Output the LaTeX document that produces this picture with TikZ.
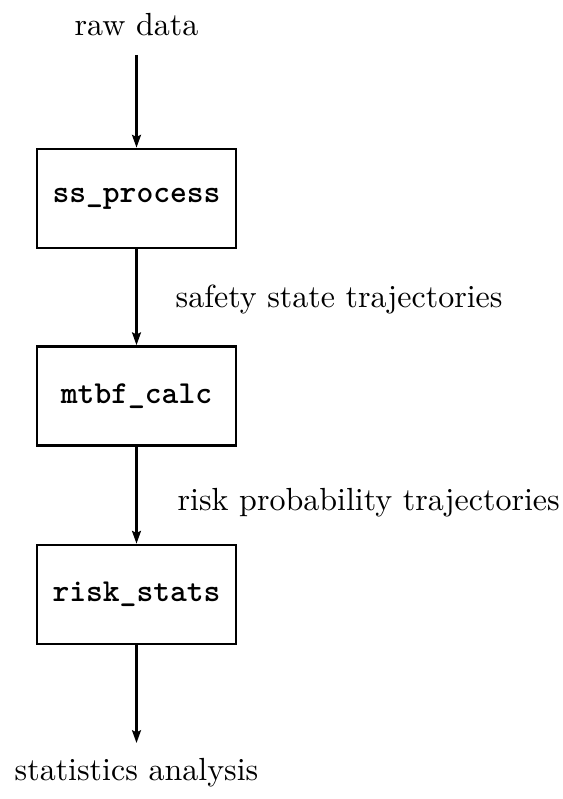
\documentclass[tikz,border=0pt]{standalone}
\usetikzlibrary{arrows.meta}
\begin{document}
\begin{tikzpicture}[x=0.3125pt,y=-0.3125pt,
  procbox/.style={draw,line width=0.85pt,minimum width=199*0.3125pt,minimum height=99*0.3125pt,inner sep=0pt,font=\ttfamily\bfseries},
  lbl/.style={inner sep=0pt,font=\fontsize{10}{12}\selectfont},
  flow/.style={line width=0.75pt,-{Stealth[length=4pt,width=2.8pt,inset=0.7pt]}}]
\useasboundingbox (0,0) rectangle (562,799);
\node[lbl] (raw) at (136.5,25) {raw data};
\node[procbox] (b1) at (136.5,198.5) {ss\_process};
\node[procbox] (b2) at (136.5,396) {mtbf\_calc};
\node[procbox] (b3) at (136.5,594.5) {risk\_stats};
\coordinate (out) at (136.5,743);
\node[lbl] (stat) at (136.5,773) {statistics analysis};
\node[lbl,anchor=west] (l1) at (175,300) {safety state trajectories};
\node[lbl,anchor=west] (l2) at (177,503) {risk probability trajectories};
\draw[flow,shorten <=18*0.3125pt] (raw.south) -- (b1.north);
\draw[flow] (b1.south) -- (b2.north);
\draw[flow] (b2.south) -- (b3.north);
\draw[flow] (b3.south) -- (out);
\end{tikzpicture}
\end{document}
